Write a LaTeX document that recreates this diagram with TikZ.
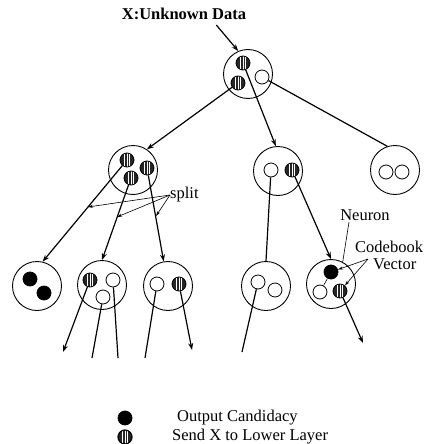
\documentclass[tikz,border=0pt]{standalone}
\usepackage{fontspec}
\setmainfont{Liberation Serif}
\usetikzlibrary{arrows.meta}

\begin{document}
\begin{tikzpicture}[x=1pt,y=-1pt]
        \tikzset{neuron/.style = {circle,draw,line width=0.9pt,minimum size=49pt,inner sep=0pt}}
        \tikzset{cbopen/.style = {circle,draw,line width=0.8pt,minimum size=14pt,inner sep=0pt}}
        \tikzset{cbout/.style = {cbopen,fill=black}}
        \tikzset{cbsend/.style = {cbopen,fill=black!85,path picture={
            \foreach \d in {-2.5,0,2.5}
                \draw[white,line width=0.7pt] ([xshift=\d pt]path picture bounding box.north) -- ([xshift=\d pt]path picture bounding box.south);}}}
        \tikzset{wire/.style = {line width=1.2pt}, wirearrow/.style = {wire,-{Stealth[length=7pt,width=5pt]}}, leader/.style = {line width=0.6pt}}
        \tikzset{lbl/.style = {font=\fontsize{16.5}{18}\selectfont,inner sep=0pt}}
        \useasboundingbox (0,0) rectangle (425,444);
        % neurons
        \node[neuron] (root) at (248,74) {};
        \node[neuron] (L) at (133,170) {};
        \node[neuron] (M) at (278,171) {};
        \node[neuron] (R) at (395,170) {};
        \node[neuron] (A) at (37,286) {};
        \node[neuron] (B) at (102,285) {};
        \node[neuron] (C) at (168,286) {};
        \node[neuron] (D) at (266,286) {};
        \node[neuron] (E) at (331,284) {};
        % codebook vectors
        \node[cbsend] (r1) at (243,63) {};
        \node[cbsend] (r2) at (238,83) {};
        \node[cbopen] (r3) at (262,77) {};
        \node[cbsend] (l1) at (127,160) {};
        \node[cbsend] (l2) at (131,178) {};
        \node[cbsend] (l3) at (147,168) {};
        \node[cbopen] (m1) at (271,170) {};
        \node[cbsend] (m2) at (292,170) {};
        \node[cbopen] (q1) at (386,172) {};
        \node[cbopen] (q2) at (402,172) {};
        \node[cbout] (a1) at (30,279) {};
        \node[cbout] (a2) at (44,293) {};
        \node[cbsend] (b1) at (90,280) {};
        \node[cbopen] (b2) at (113,280) {};
        \node[cbopen] (b3) at (103,297) {};
        \node[cbopen] (c1) at (157,284) {};
        \node[cbsend] (c2) at (179,284) {};
        \node[cbopen] (d1) at (258,282) {};
        \node[cbopen] (d2) at (275,290) {};
        \node[cbout] (e1) at (331,272) {};
        \node[cbopen] (e2) at (320,292) {};
        \node[cbsend] (e3) at (340,291) {};
        % labels
        \node[lbl,font=\fontsize{16.5}{18}\selectfont\bfseries] (title) at (184,14) {X:Unknown Data};
        \node[lbl,anchor=west] (split) at (170,195) {split};
        \node[lbl] (neur) at (365,215) {Neuron};
        \node[lbl,anchor=west] (cb) at (355,247) {Codebook};
        \node[lbl,anchor=west] (vec) at (373,264) {Vector};
        % tree
        \draw[wirearrow] ([xshift=-30pt,yshift=-5pt]title.south east) -- (root.113);
        \draw[wirearrow] (r2) -- (L.56);
        \draw[wirearrow] (r1) -- (M.95);
        \draw[wire] (r3) -- (R.108);
        \draw[wirearrow] (l1) -- (A.77);
        \draw[wirearrow] (l2) -- (B.north);
        \draw[wirearrow] (l3) -- (C.100);
        \draw[wire] (m1) -- (D.north);
        \draw[wirearrow] (m2) -- (E.north);
        % lower layer
        \coordinate (b1x) at (63,352);
        \coordinate (b3x) at (92,358);
        \coordinate (b2x) at (118,358);
        \coordinate (c1x) at (145,358);
        \coordinate (c2x) at (192,350);
        \coordinate (d1x) at (242,352);
        \coordinate (e3x) at (363,343);
        \draw[wirearrow] (b1) -- (b1x);
        \draw[wire] (b3) -- (b3x);
        \draw[wire] (b2) -- (b2x);
        \draw[wire] (c1) -- (c1x);
        \draw[wirearrow] (c2) -- (c2x);
        \draw[wire] (d1) -- (d1x);
        \draw[wirearrow] (e3) -- (e3x);
        \draw[leader] (e1) -- (e2);
        % leaders
        \coordinate (s1) at (88,207);
        \coordinate (s2) at (117,217);
        \coordinate (s3) at (156,216);
        \coordinate (nx) at (349,222);
        \coordinate (cbx) at (368,259);
        \draw[leader,-{Stealth[length=5pt,width=3pt]}] (split.west) -- (s1);
        \draw[leader,-{Stealth[length=5pt,width=3pt]}] (split.west) -- (s2);
        \draw[leader,-{Stealth[length=5pt,width=3pt]}] (split.west) -- (s3);
        \draw[leader] (nx) -- (E.62);
        \draw[leader,-{Stealth[length=5pt,width=3pt]}] (cbx) -- (e1);
        \draw[leader,-{Stealth[length=5pt,width=3pt]}] (cbx) -- (e3);
        % legend
        \node[cbout,minimum size=14pt] (kout) at (125,418) {};
        \node[cbsend,minimum size=14pt,line width=1.2pt] (ksend) at (125,437) {};
        \node[lbl,anchor=west] (tout) at (177,418) {Output Candidacy};
        \node[lbl,anchor=west] (tsend) at (172,437) {Send X to Lower Layer};
\end{tikzpicture}
\end{document}
